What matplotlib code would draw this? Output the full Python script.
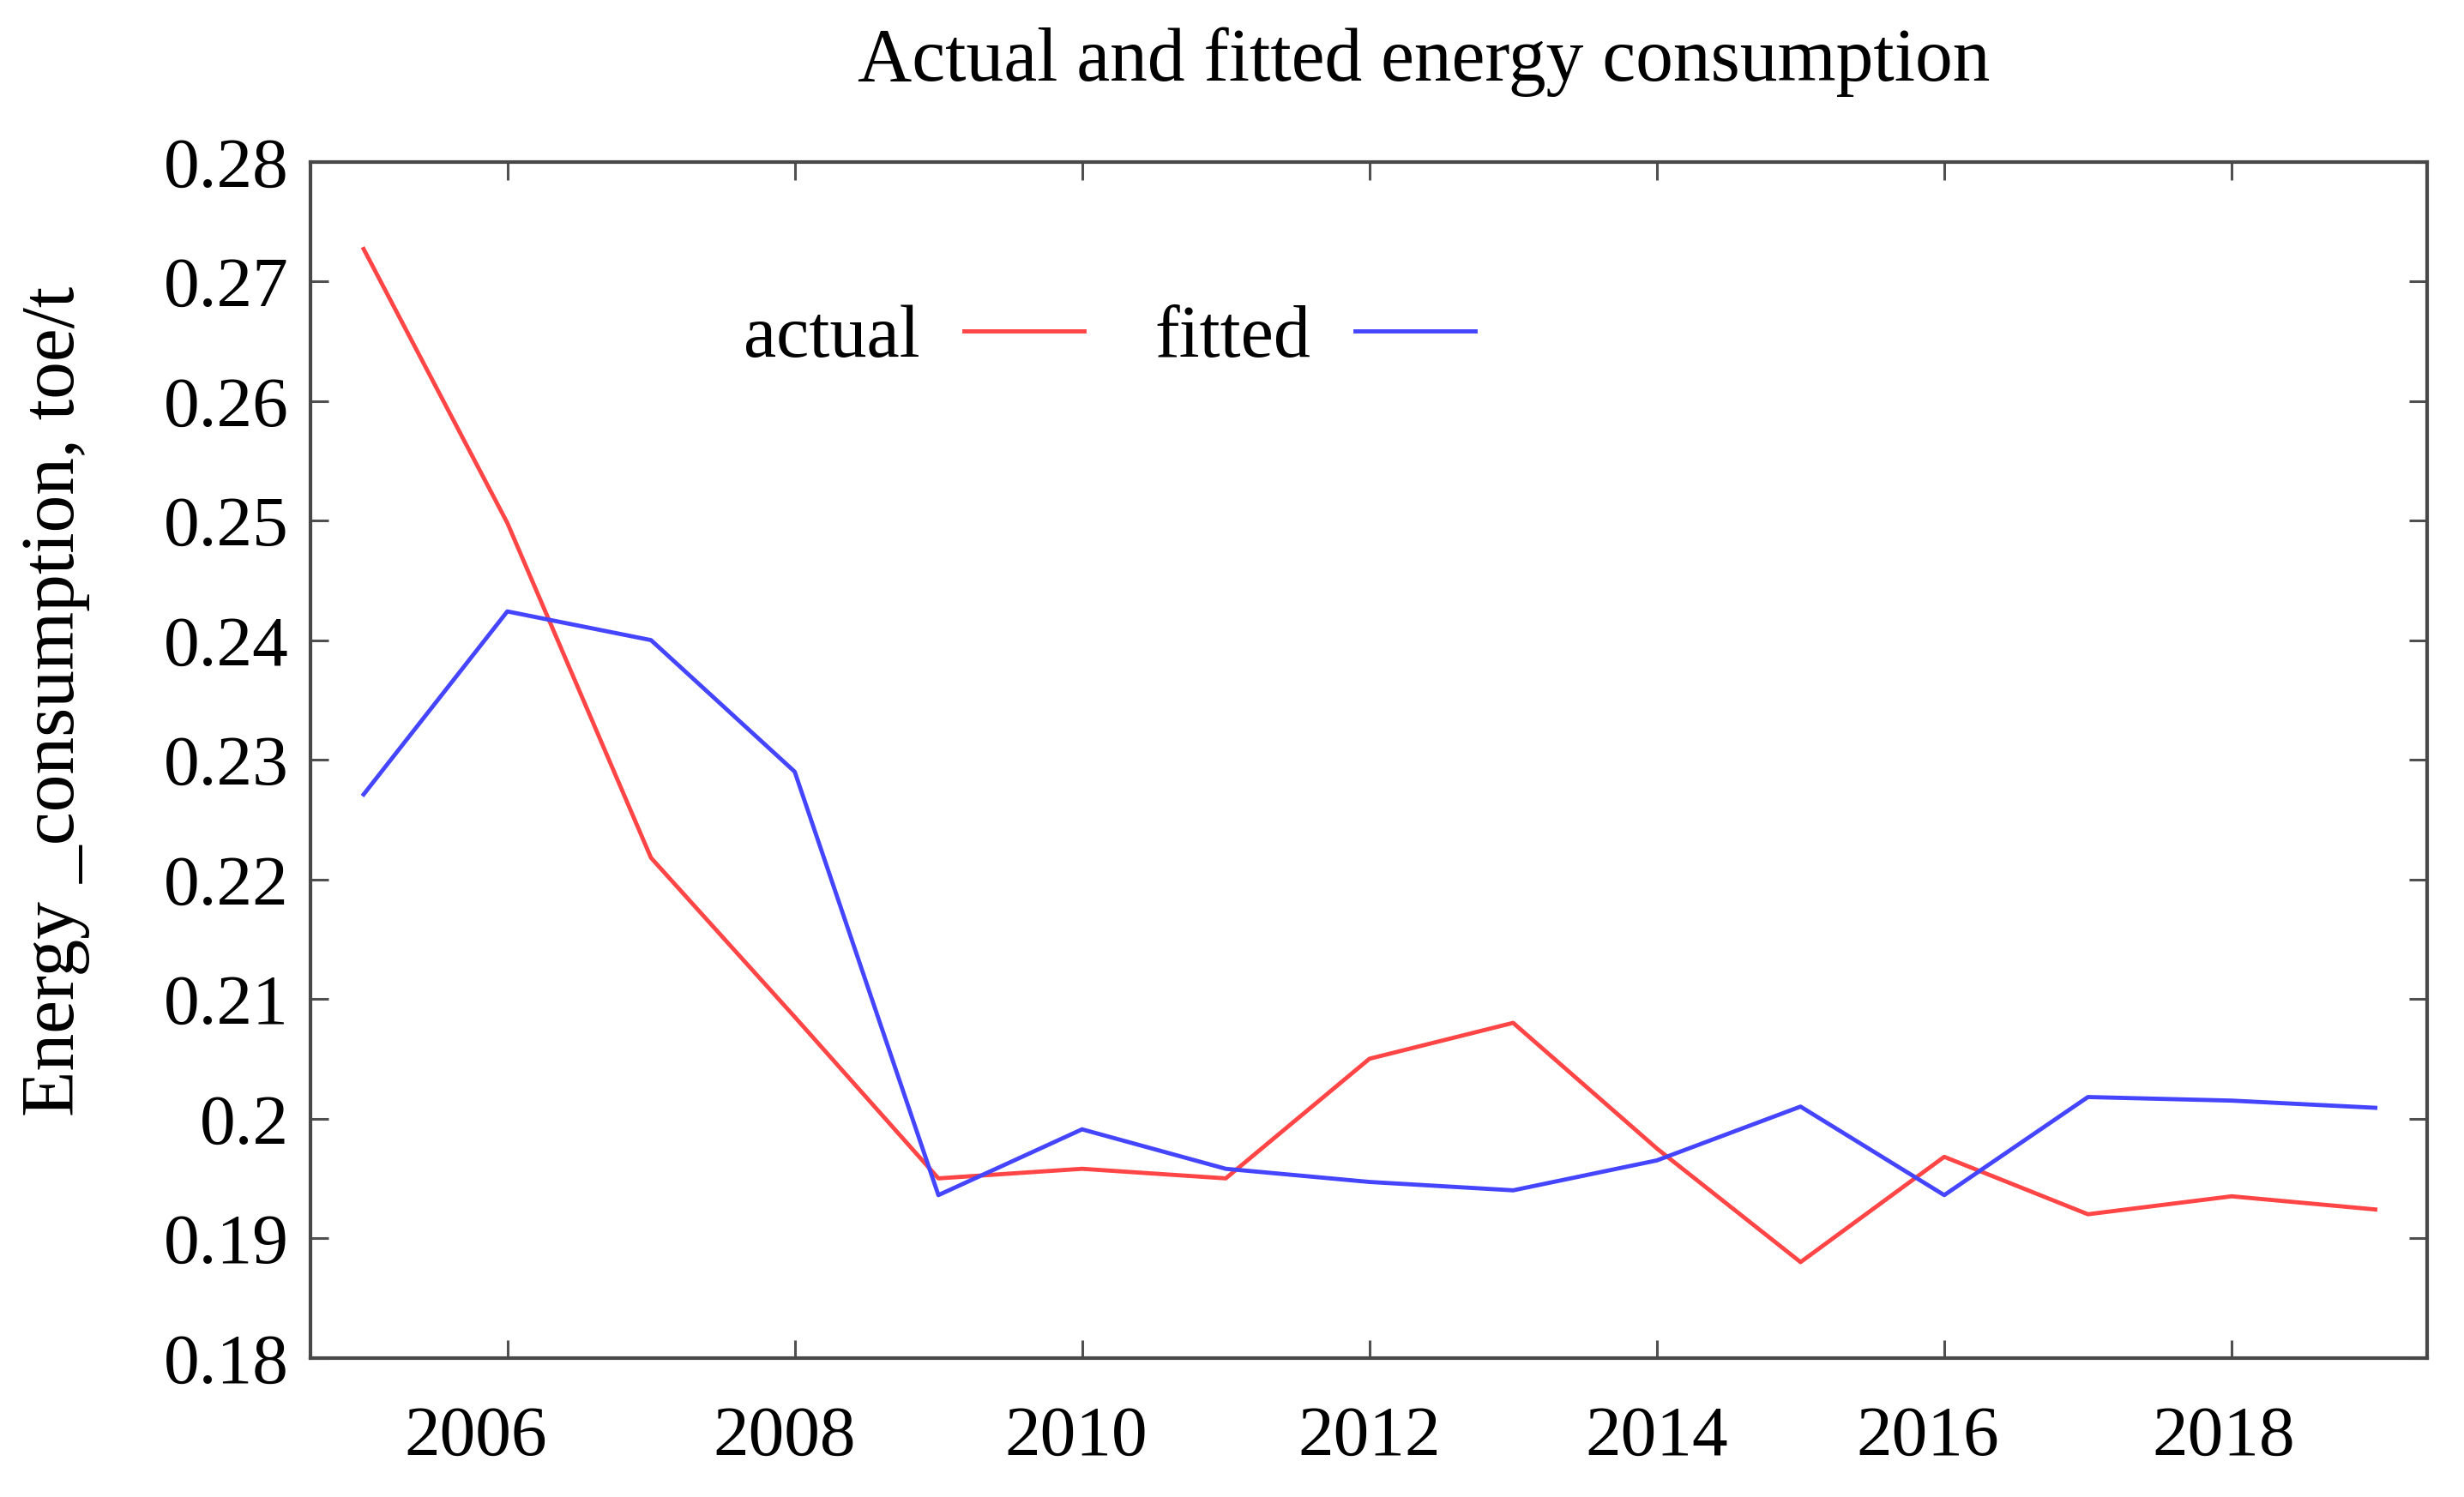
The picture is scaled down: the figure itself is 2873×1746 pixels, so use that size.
import matplotlib
matplotlib.use('Agg')
import matplotlib.pyplot as plt
from matplotlib.ticker import FuncFormatter, MultipleLocator
from matplotlib.transforms import ScaledTranslation

plt.rcParams['font.family'] = ['Liberation Serif', 'DejaVu Serif']

# data
years = [2005, 2006, 2007, 2008, 2009, 2010, 2011, 2012, 2013, 2014, 2015, 2016, 2017, 2018, 2019]
actual = [0.2727, 0.2498, 0.2218, 0.2085, 0.1950, 0.1958, 0.1950, 0.2050, 0.2080, 0.1975,
          0.1880, 0.1968, 0.1920, 0.1935, 0.1924]
fitted = [0.2271, 0.2424, 0.2400, 0.2290, 0.1936, 0.1991, 0.1958, 0.1947, 0.1940, 0.1965,
          0.2010, 0.1936, 0.2018, 0.2015, 0.2009]
xticks = [2006, 2008, 2010, 2012, 2014, 2016, 2018]

fig = plt.figure(figsize=(28.73, 17.46), dpi=100)
ax = fig.add_axes([0.126, 0.093, 0.859, 0.799])

ax.plot(years, actual, color='#ff4545', lw=3.5, label='actual')
ax.plot(years, fitted, color='#4545ff', lw=3.5, label='fitted')

ax.set_xlim(2004.63, 2019.36)
ax.set_ylim(0.18, 0.28)
ax.set_xticks(xticks)
ax.yaxis.set_major_locator(MultipleLocator(0.01))
ax.yaxis.set_major_formatter(FuncFormatter(lambda v, p: '{:g}'.format(round(v, 2))))

ax.tick_params(direction='in', top=True, right=True, length=15, width=2.2,
               color='#505050', labelsize=60)
ax.tick_params(axis='x', pad=40)
ax.tick_params(axis='y', pad=18)
for s in ax.spines.values():
    s.set_color('#484848')
    s.set_linewidth(3)

# the x labels in the original sit a little left of their ticks
shifts = [-37, -12, -7, 0, 0, -19, -9]
for lab, dx in zip(ax.get_xticklabels(), shifts):
    lab.set_transform(lab.get_transform() + ScaledTranslation(dx / 100, 0, fig.dpi_scale_trans))

ax.set_title('Actual and fitted energy consumption', fontsize=63, x=0.526, pad=68)
ax.set_ylabel('Energy _consumption, toe/t', fontsize=63, va='center')
ax.yaxis.set_label_coords(-0.1206, 0.549)

ax.legend(loc='center left', bbox_to_anchor=(0.187, 0.852), ncol=2, frameon=False,
          markerfirst=False, fontsize=62, handlelength=1.63, handletextpad=0.6,
          columnspacing=0.95, borderpad=0)

fig.savefig('out.png', dpi=100)
